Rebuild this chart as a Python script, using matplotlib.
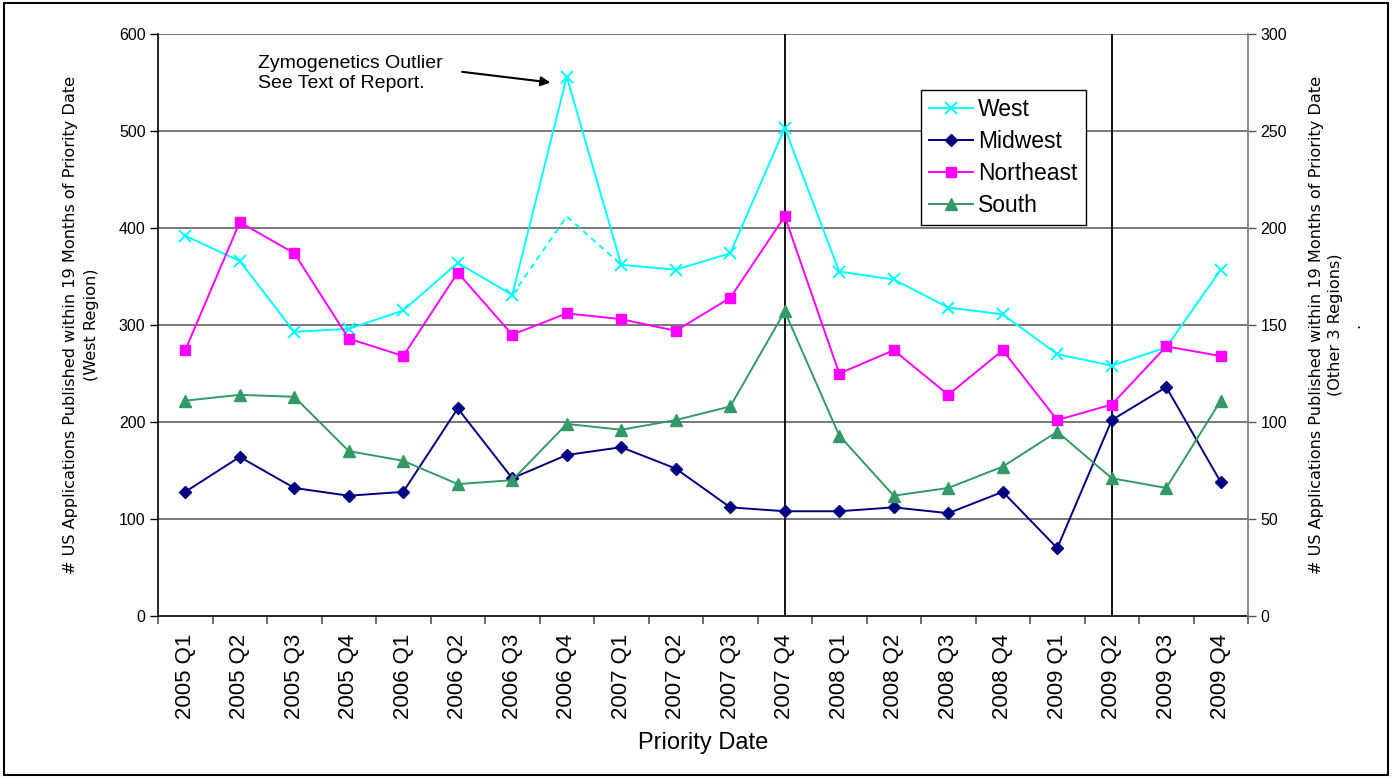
import numpy as np
import matplotlib
matplotlib.use("Agg")
import matplotlib.pyplot as plt
from matplotlib import font_manager
from matplotlib.patches import Rectangle

quarters = ['2005 Q1', '2005 Q2', '2005 Q3', '2005 Q4',
            '2006 Q1', '2006 Q2', '2006 Q3', '2006 Q4',
            '2007 Q1', '2007 Q2', '2007 Q3', '2007 Q4',
            '2008 Q1', '2008 Q2', '2008 Q3', '2008 Q4',
            '2009 Q1', '2009 Q2', '2009 Q3', '2009 Q4']
west = [392, 366, 293, 296, 315, 364, 331, 556, 362, 357,
        374, 503, 355, 347, 318, 311, 270, 258, 277, 357]
nan = np.nan
west_adjusted = [nan, nan, nan, nan, nan, nan, 331, 412, 362, nan,
                 nan, nan, nan, nan, nan, nan, nan, nan, nan, nan]
midwest = [64, 82, 66, 62, 64, 107, 71, 83, 87, 76,
           56, 54, 54, 56, 53, 64, 35, 101, 118, 69]
northeast = [137, 203, 187, 143, 134, 177, 145, 156, 153, 147,
             164, 206, 125, 137, 114, 137, 101, 109, 139, 134]
south = [111, 114, 113, 85, 80, 68, 70, 99, 96, 101,
         108, 157, 93, 62, 66, 77, 95, 71, 66, 111]
marker_quarters = ['2007 Q4', '2009 Q2']
left_ticks = [0, 100, 200, 300, 400, 500, 600]
right_ticks = [0, 50, 100, 150, 200, 250, 300]

names = {f.name for f in font_manager.fontManager.ttflist}
plt.rcParams['font.family'] = ['Liberation Sans', 'DejaVu Sans']
narrow = 'Liberation Sans Narrow' if 'Liberation Sans Narrow' in names else None

fig = plt.figure(figsize=(13.93, 7.78), dpi=100)
ax = fig.add_axes([158/1393, 1-616/778, 1090/1393, 582/778])
ax2 = ax.twinx()

x = np.arange(len(quarters))

ax.set_xlim(-0.5, len(quarters) - 0.5)
ax.set_ylim(0, 600)
ax2.set_ylim(0, 300)

for v in left_ticks[1:]:
    ax.axhline(v, color='#6e6e6e', lw=1.3, zorder=0)

for q in marker_quarters:
    ax.axvline(quarters.index(q), color='black', lw=1.3, zorder=1)

ax.plot(x, west_adjusted, color='#00FFFF', lw=1.4, ls=(0, (3, 2.5)), zorder=3)
lw_, = ax.plot(x, west, color='#00FFFF', lw=1.4, marker='x', ms=8, mew=1.4, zorder=4, label='West')
lm, = ax2.plot(x, midwest, color='#000080', lw=1.4, marker='D', ms=6, zorder=4, label='Midwest')
ln, = ax2.plot(x, northeast, color='#FF00FF', lw=1.4, marker='s', ms=7, zorder=4, label='Northeast')
ls_, = ax2.plot(x, south, color='#339966', lw=1.4, marker='^', ms=8, zorder=4, label='South')

# axes styling
ax.set_yticks(left_ticks)
ax2.set_yticks(right_ticks)
ax.set_xticks(x)
ax.set_xticklabels(quarters, rotation=90, fontsize=16)
ax.set_xticks(np.arange(-0.5, len(quarters)), minor=True)
ax.tick_params(axis='x', which='major', length=0, pad=13)
ax.tick_params(axis='x', which='minor', length=6, width=1.2, color='#555555', direction='out')
ax.tick_params(axis='y', length=6, width=1.0, color='black', labelsize=11.5, pad=3)
ax2.tick_params(axis='y', length=6, width=1.0, color='#555555', labelsize=11.5, pad=3)
for a in (ax, ax2):
    a.spines['top'].set_visible(False)
ax.spines['left'].set_color('black')
ax.spines['bottom'].set_color('black')
ax.spines['right'].set_visible(False)
ax2.spines['left'].set_visible(False)
ax2.spines['bottom'].set_visible(False)
ax2.spines['right'].set_color('#808080')
ax2.spines['right'].set_linewidth(1.3)
ax.spines['left'].set_linewidth(1.2)
ax.spines['bottom'].set_linewidth(1.2)

ylab_font = dict(fontsize=15, family=narrow) if narrow else dict(fontsize=11.6, family='DejaVu Sans')
ax.set_ylabel('# US Applications Published within 19 Months of Priority Date\n(West Region)',
              linespacing=1.55, **ylab_font)
ax.yaxis.set_label_coords(-0.054, 0.5)
ax2.set_ylabel('# US Applications Published within 19 Months of Priority Date\n(Other 3 Regions)\n.',
               rotation=90, linespacing=1.35, **ylab_font)
ax2.yaxis.set_label_coords(1.056, 0.5)

ax.set_xlabel('Priority Date', fontsize=17)
ax.xaxis.set_label_coords(0.5, -0.2)

# annotation
ax.text(1.33, 578, 'Zymogenetics Outlier\nSee Text of Report.', fontsize=14,
        va='top', ha='left', linespacing=1.2, zorder=5)
ax.annotate('', xy=(6.7, 550), xytext=(5.08, 561),
            arrowprops=dict(arrowstyle='-|>', color='black', lw=1.5, mutation_scale=14,
                            shrinkA=0, shrinkB=0))

leg = ax2.legend(handles=[lw_, lm, ln, ls_], loc='upper left', bbox_to_anchor=(0.700, 0.904),
                 borderaxespad=0, fancybox=False, framealpha=1, edgecolor='black',
                 fontsize=16.5, handlelength=1.9, handletextpad=0.25, labelspacing=0.4,
                 borderpad=0.35)
leg.get_frame().set_linewidth(1.0)

fig.patches.append(Rectangle((4/1393, 3/778), 1384/1393, 772/778, transform=fig.transFigure,
                             fill=False, edgecolor='black', lw=1.5))

fig.savefig('out.png', dpi=100)
